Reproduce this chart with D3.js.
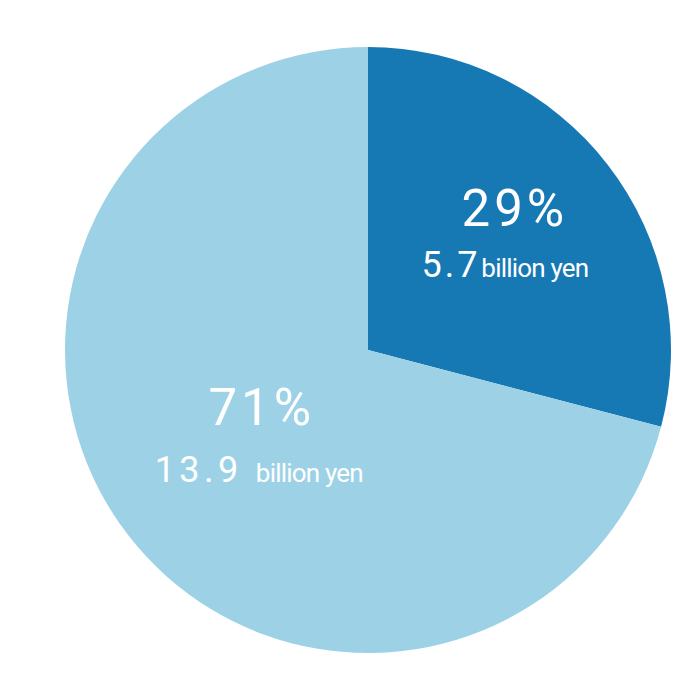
<!DOCTYPE html>
<html>
<head>
<meta charset="utf-8">
<script src="https://cdn.jsdelivr.net/npm/d3@7"></script>
<style>
  body { margin: 0; background: #fff; }
  text { font-family: Roboto, sans-serif; fill: #fff; }
</style>
</head>
<body>
<div class="grafico"></div>
<script>
const categories = ["overseas", "domestic"];
const values = [5.7, 13.9];
const percents = ["29%", "71%"];
const unitLabel = "billion yen";

const width = 700, height = 700;
const radius = 303;

const svg = d3.select(".grafico")
    .append("svg")
    .attr("width", width)
    .attr("height", height)
    .append("g")
    .attr("transform", `translate(368, 350)`);

const color = d3.scaleOrdinal()
    .domain(categories)
    .range(["#1779b4", "#9dd2e6"]);

const datos = categories.map((c, i) => ({ key: c, value: values[i], pct: percents[i] }));

const pie = d3.pie()
    .value(d => d.value)
    .sort(null);

const arc = d3.arc()
    .innerRadius(0)
    .outerRadius(radius);

const arcs = pie(datos);

svg.selectAll("path")
    .data(arcs)
    .enter().append("path")
    .attr("fill", d => color(d.data.key))
    .attr("d", arc);

// label radius differs per slice (small slice sits further out)
const labelR = d => d.index === 0 ? 183 : 138;

const labels = svg.selectAll("g.label")
    .data(arcs)
    .enter().append("g")
    .attr("class", "label")
    .attr("transform", d => {
        const a = (d.startAngle + d.endAngle) / 2;
        const r = labelR(d);
        return `translate(${r * Math.sin(a)}, ${-r * Math.cos(a)})`;
    });

labels.append("text")
    .attr("text-anchor", "middle")
    .attr("x", d => d.index === 0 ? 2 : 3)
    .attr("y", d => d.index === 0 ? -12 : -9)
    .attr("font-size", 51)
    .attr("letter-spacing", 4)
    .text(d => d.data.pct);

const sub = labels.append("text")
    .attr("text-anchor", "middle")
    .attr("x", d => d.index === 0 ? -8 : 0)
    .attr("y", d => d.index === 0 ? 39 : 48);

sub.append("tspan")
    .attr("font-size", 36)
    .attr("letter-spacing", d => d.index === 0 ? 3 : 4.5)
    .text(d => d.data.value.toFixed(1));

sub.append("tspan")
    .attr("font-size", 26)
    .attr("letter-spacing", -0.8)
    .attr("dx", d => d.index === 0 ? 1 : 13)
    .text(unitLabel);
</script>
</body>
</html>
